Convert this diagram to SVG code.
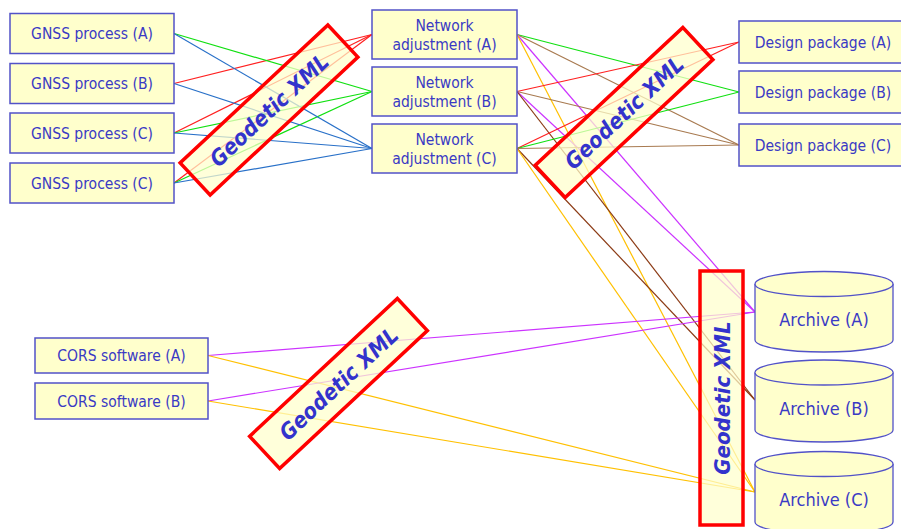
<svg xmlns="http://www.w3.org/2000/svg" width="901" height="529" viewBox="0 0 901 529">
<style>
.box{fill:#ffffcc;stroke:#5252c8;stroke-width:1.5}
.cyl{fill:#ffffcc;stroke:#5252c8;stroke-width:1.3}
.t{font-family:"DejaVu Sans",Verdana,sans-serif;font-stretch:condensed;font-size:15.5px;fill:#3a3ac4;text-anchor:middle}
.ta{font-family:"DejaVu Sans",Verdana,sans-serif;font-stretch:condensed;font-size:18px;fill:#3a3ac4;text-anchor:middle}
.lbl{fill:#ffffcc;fill-opacity:0.72;stroke:#ff0000;stroke-width:3.5}
.lt{font-family:"DejaVu Sans",Verdana,sans-serif;font-stretch:condensed;font-size:22px;font-weight:bold;font-style:italic;fill:#3333cc;text-anchor:middle}
#connectors line{stroke-width:1.2;fill:none}
.r{stroke:#ff2020}.g{stroke:#10e010}.b{stroke:#2870c8}.m{stroke:#cc33ff}.y{stroke:#ffc000}.lb{stroke:#a87a50}.db{stroke:#8b3a14}
</style>
<g id="connectors">
<line class="r" x1="174" y1="83.5" x2="372" y2="34.5"/>
<line class="r" x1="174" y1="133" x2="372" y2="34.5"/>
<line class="r" x1="174" y1="183" x2="372" y2="34.5"/>
<line class="g" x1="174" y1="33.5" x2="372" y2="91.5"/>
<line class="g" x1="174" y1="133" x2="372" y2="91.5"/>
<line class="g" x1="174" y1="183" x2="372" y2="91.5"/>
<line class="b" x1="174" y1="33.5" x2="372" y2="148.5"/>
<line class="b" x1="174" y1="83.5" x2="372" y2="148.5"/>
<line class="b" x1="174" y1="133" x2="372" y2="148.5"/>
<line class="b" x1="174" y1="183" x2="372" y2="148.5"/>
<line class="g" x1="517" y1="34.5" x2="739" y2="92"/>
<line class="lb" x1="517" y1="34.5" x2="739" y2="145"/>
<line class="m" x1="517" y1="34.5" x2="755" y2="312"/>
<line class="y" x1="517" y1="34.5" x2="755" y2="492"/>
<line class="r" x1="517" y1="91.5" x2="739" y2="42"/>
<line class="lb" x1="517" y1="91.5" x2="739" y2="145"/>
<line class="m" x1="517" y1="91.5" x2="755" y2="312"/>
<line class="db" x1="517" y1="91.5" x2="755" y2="400"/>
<line class="r" x1="517" y1="148.5" x2="739" y2="42"/>
<line class="g" x1="517" y1="148.5" x2="739" y2="92"/>
<line class="lb" x1="517" y1="148.5" x2="739" y2="145"/>
<line class="db" x1="517" y1="148.5" x2="755" y2="400"/>
<line class="y" x1="517" y1="148.5" x2="755" y2="492"/>
<line class="m" x1="208" y1="355.5" x2="755" y2="312"/>
<line class="y" x1="208" y1="355.5" x2="755" y2="492"/>
<line class="m" x1="208" y1="401" x2="755" y2="312"/>
<line class="y" x1="208" y1="401" x2="755" y2="492"/>
</g>
<g id="gnss-a"><rect class="box" x="10" y="13.5" width="164" height="40"/><text class="t" x="92" y="39">GNSS process (A)</text></g>
<g id="gnss-b"><rect class="box" x="10" y="63.5" width="164" height="40"/><text class="t" x="92" y="89">GNSS process (B)</text></g>
<g id="gnss-c1"><rect class="box" x="10" y="113" width="164" height="40"/><text class="t" x="92" y="138.5">GNSS process (C)</text></g>
<g id="gnss-c2"><rect class="box" x="10" y="163" width="164" height="40"/><text class="t" x="92" y="188.5">GNSS process (C)</text></g>
<g id="net-a"><rect class="box" x="372" y="10" width="145" height="49"/><text class="t" x="444.5" y="30.5">Network</text><text class="t" x="444.5" y="49.5">adjustment (A)</text></g>
<g id="net-b"><rect class="box" x="372" y="67" width="145" height="49"/><text class="t" x="444.5" y="87.5">Network</text><text class="t" x="444.5" y="106.5">adjustment (B)</text></g>
<g id="net-c"><rect class="box" x="372" y="124" width="145" height="49"/><text class="t" x="444.5" y="144.5">Network</text><text class="t" x="444.5" y="163.5">adjustment (C)</text></g>
<g id="design-a"><rect class="box" x="739" y="21" width="170" height="42"/><text class="t" x="823" y="47.5">Design package (A)</text></g>
<g id="design-b"><rect class="box" x="739" y="71" width="170" height="42"/><text class="t" x="823" y="97.5">Design package (B)</text></g>
<g id="design-c"><rect class="box" x="739" y="124" width="170" height="42"/><text class="t" x="823" y="150.5">Design package (C)</text></g>
<g id="archive-a"><path class="cyl" d="M755,284 A69,12.5 0 0 1 893,284 V340 A69,12 0 0 1 755,340 Z"/><path class="cyl" fill="none" d="M755,284 A69,12.5 0 0 0 893,284"/><text class="ta" x="824" y="326">Archive (A)</text></g>
<g id="archive-b"><path class="cyl" d="M755,372.5 A69,12.5 0 0 1 893,372.5 V430 A69,12 0 0 1 755,430 Z"/><path class="cyl" fill="none" d="M755,372.5 A69,12.5 0 0 0 893,372.5"/><text class="ta" x="824" y="414.5">Archive (B)</text></g>
<g id="archive-c"><path class="cyl" d="M755,464 A69,12.5 0 0 1 893,464 V522 A69,12 0 0 1 755,522 Z"/><path class="cyl" fill="none" d="M755,464 A69,12.5 0 0 0 893,464"/><text class="ta" x="824" y="506">Archive (C)</text></g>
<g id="cors-a"><rect class="box" x="35" y="338" width="173" height="35"/><text class="t" x="121.5" y="361">CORS software (A)</text></g>
<g id="cors-b"><rect class="box" x="35" y="383" width="173" height="36"/><text class="t" x="121.5" y="406.5">CORS software (B)</text></g>
<g id="label-1" transform="translate(269,110) rotate(-43)"><rect class="lbl" x="-101" y="-22" width="202" height="44"/><text class="lt" x="0" y="8">Geodetic XML</text></g>
<g id="label-2" transform="translate(624,112.5) rotate(-43)"><rect class="lbl" x="-101" y="-22" width="202" height="44"/><text class="lt" x="0" y="8">Geodetic XML</text></g>
<g id="label-3" transform="translate(338.5,383.5) rotate(-43)"><rect class="lbl" x="-101" y="-22" width="202" height="44"/><text class="lt" x="0" y="8">Geodetic XML</text></g>
<g id="label-4" transform="translate(721.5,398) rotate(-90)"><rect class="lbl" x="-127" y="-21.5" width="254" height="43"/><text class="lt" x="0" y="8">Geodetic XML</text></g>
</svg>
